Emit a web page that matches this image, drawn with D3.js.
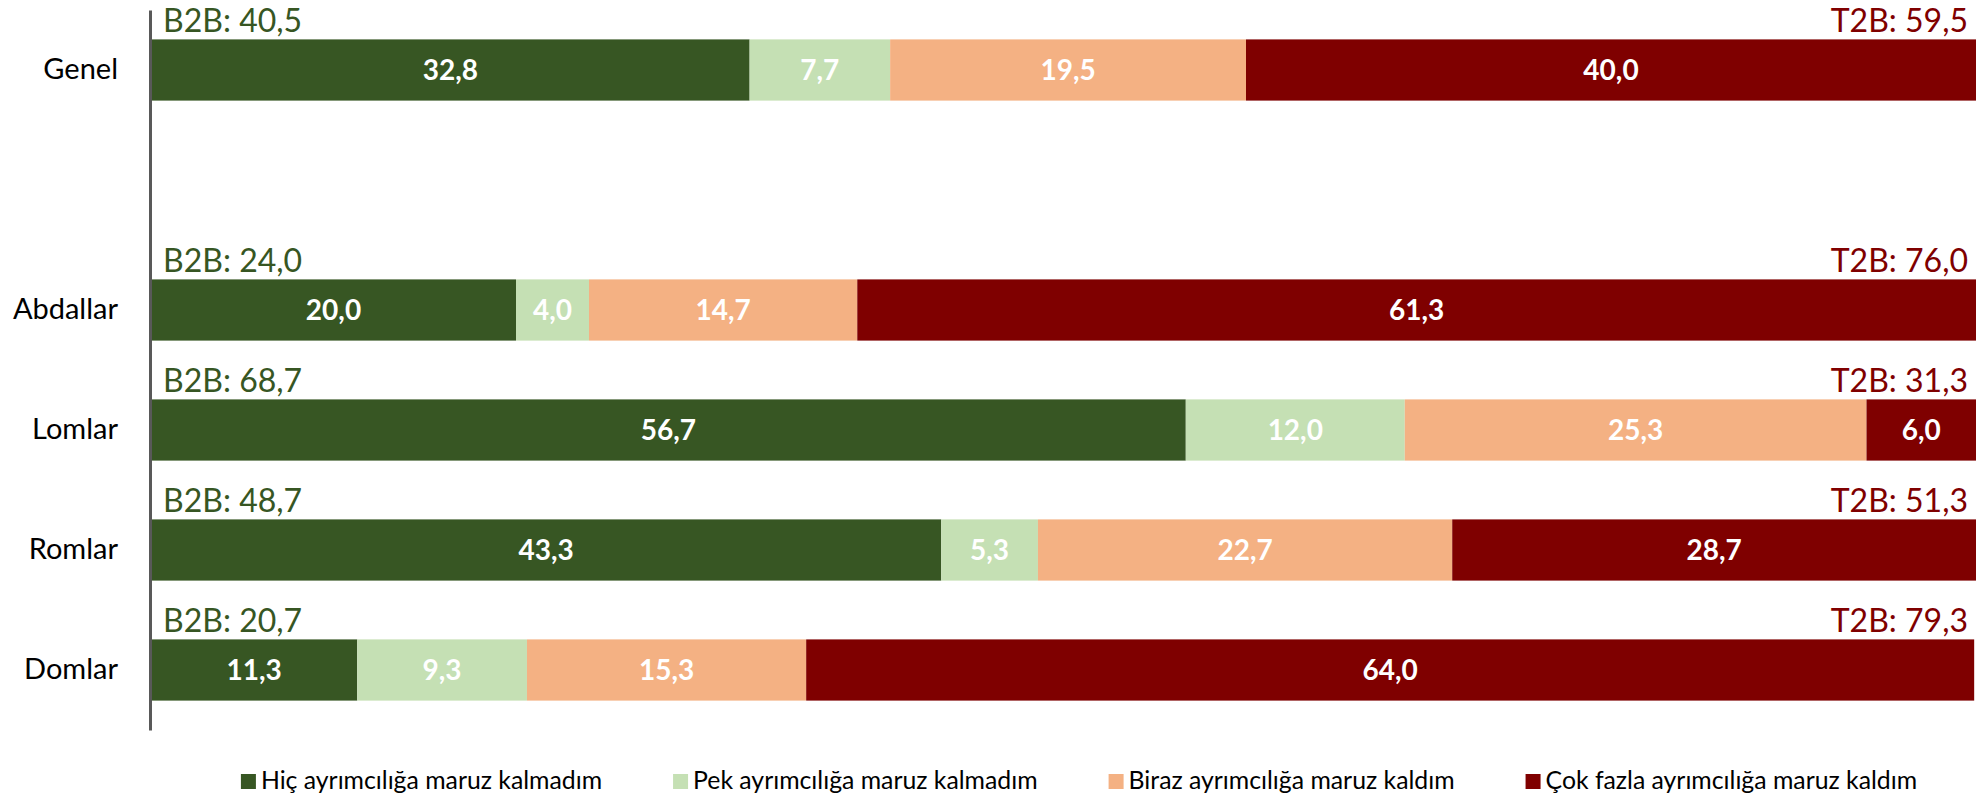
<!DOCTYPE html>
<html>
<head>
<meta charset="utf-8">
<script src="https://cdn.jsdelivr.net/npm/d3@7/dist/d3.min.js"></script>
<style>
  html, body { margin: 0; padding: 0; background: #ffffff; }
  svg { display: block; font-family: Lato, "Noto Sans", sans-serif; }
</style>
</head>
<body>
<svg id="chart" width="1985" height="797"></svg>
<script>
// ---- data ----
const categories = ["Genel", "_gap", "Abdallar", "Lomlar", "Romlar", "Domlar"];
const rowNames = ["Genel", "Abdallar", "Lomlar", "Romlar", "Domlar"];
const seriesNames = [
  "Hiç ayrımcılığa maruz kalmadım",
  "Pek ayrımcılığa maruz kalmadım",
  "Biraz ayrımcılığa maruz kaldım",
  "Çok fazla ayrımcılığa maruz kaldım"
];
const hic   = [32.8, 20.0, 56.7, 43.3, 11.3];
const pek   = [7.7, 4.0, 12.0, 5.3, 9.3];
const biraz = [19.5, 14.7, 25.3, 22.7, 15.3];
const cok   = [40.0, 61.3, 6.0, 28.7, 64.0];
const b2b   = [40.5, 24.0, 68.7, 48.7, 20.7];
const t2b   = [59.5, 76.0, 31.3, 51.3, 79.3];
const colors = ["#375623", "#C5E0B4", "#F4B183", "#7F0000"];

// ---- layout ----
const svg = d3.select("#chart");
const plotLeft = 151, plotRight = 1976;
const fmt = v => v.toFixed(1).replace(".", ",");

const x = d3.scaleLinear().domain([0, 100]).range([plotLeft, plotRight]);
const y = d3.scaleBand().domain(categories).range([10, 730])
  .paddingInner(0.49).paddingOuter(0.245);

const rows = rowNames.map((name, i) => ({
  name, b2b: b2b[i], t2b: t2b[i]
}));

const stackData = rowNames.map((name, i) => {
  const o = { name };
  seriesNames.forEach((s, k) => o[s] = [hic, pek, biraz, cok][k][i]);
  return o;
});
const stacked = d3.stack().keys(seriesNames)(stackData);

// bars
const layers = svg.append("g").selectAll("g.layer").data(stacked).join("g")
  .attr("class", "layer")
  .attr("fill", (d, k) => colors[k]);

layers.selectAll("rect").data(d => d).join("rect")
  .attr("x", d => x(d[0]))
  .attr("width", d => x(d[1]) - x(d[0]))
  .attr("y", d => y(d.data.name))
  .attr("height", y.bandwidth());

// value labels
layers.selectAll("text").data(d => d).join("text")
  .attr("x", d => (x(d[0]) + x(d[1])) / 2)
  .attr("y", d => y(d.data.name) + y.bandwidth() / 2)
  .attr("dy", "0.36em")
  .attr("text-anchor", "middle")
  .attr("fill", "#ffffff")
  .attr("font-weight", "bold")
  .attr("font-size", 28)
  .text(d => fmt(d[1] - d[0]));

// B2B / T2B labels
const topLabels = svg.append("g");
topLabels.selectAll("text.b2b").data(rows).join("text")
  .attr("class", "b2b")
  .attr("x", plotLeft + 12)
  .attr("y", d => y(d.name) - 7)
  .attr("fill", colors[0])
  .attr("font-size", 32)
  .text(d => "B2B: " + fmt(d.b2b));
topLabels.selectAll("text.t2b").data(rows).join("text")
  .attr("class", "t2b")
  .attr("x", plotRight - 8)
  .attr("y", d => y(d.name) - 7)
  .attr("text-anchor", "end")
  .attr("fill", colors[3])
  .attr("font-size", 32)
  .text(d => "T2B: " + fmt(d.t2b));

// y axis
const yAxis = d3.axisLeft(y)
  .tickSize(0).tickSizeOuter(0).tickPadding(32)
  .tickFormat(d => d.startsWith("_") ? "" : d);
const ga = svg.append("g").attr("transform", `translate(${plotLeft - 1},0)`).call(yAxis);
ga.select(".domain").attr("stroke", "#595959").attr("stroke-width", 3);
ga.selectAll(".tick text")
  .attr("fill", "#000000")
  .attr("font-size", 29)
  .attr("font-family", "Lato, 'Noto Sans', sans-serif");

// legend
const legend = svg.append("g");
const items = legend.selectAll("g").data(seriesNames).join("g");
items.append("rect")
  .attr("width", 15).attr("height", 15)
  .attr("y", 774)
  .attr("fill", (d, k) => colors[k]);
items.append("text")
  .attr("x", 20).attr("y", 789)
  .attr("font-size", 24.8)
  .attr("fill", "#000000")
  .text(d => d);
const widths = [];
items.each(function () {
  widths.push(this.querySelector("text").getComputedTextLength() + 20);
});
const gap = 71;
const total = d3.sum(widths) + gap * (widths.length - 1);
let cx = 1079 - total / 2;
items.attr("transform", (d, k) => {
  const t = `translate(${cx},0)`;
  cx += widths[k] + gap;
  return t;
});
</script>
</body>
</html>
